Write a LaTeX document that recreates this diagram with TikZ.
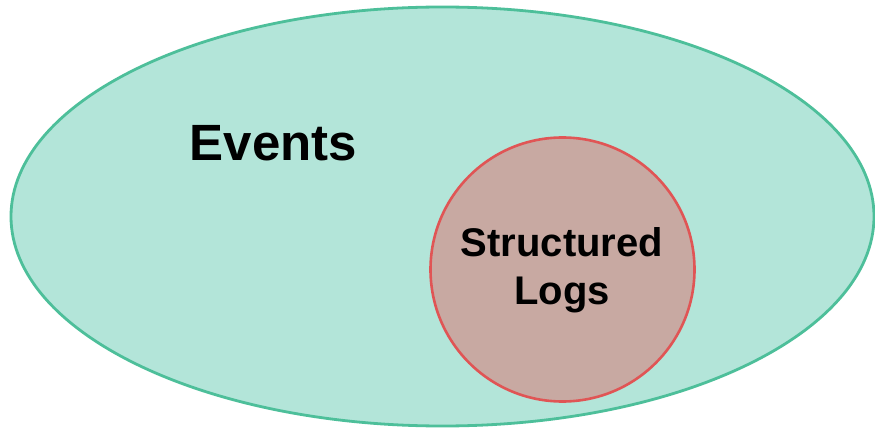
\documentclass[tikz,border=0pt]{standalone}
\usepackage{fontspec}
\setmainfont{Liberation Sans}
\definecolor{evfill}{HTML}{B3E5D9}
\definecolor{evline}{HTML}{4DBF9A}
\definecolor{slfill}{HTML}{C8A9A2}
\definecolor{slline}{HTML}{E05555}
\begin{document}
\begin{tikzpicture}[x=1pt,y=-1pt,
  lbl/.style={font=\bfseries, text=black, align=center}]
\fill[white] (0,0) rectangle (875,430);
\useasboundingbox (0,0) rectangle (875,430);
\draw[evline, fill=evfill, line width=2.8pt] (442.5,216.5) ellipse [x radius=431.5, y radius=209.5];
\draw[slline, fill=slfill, line width=2.6pt] (562.5,269.5) circle [radius=132];
\node[lbl, font=\fontsize{51}{60}\bfseries, anchor=base] (ev) at (273.5,161) {Events};
\node[lbl, font=\fontsize{40}{48}\selectfont\bfseries, anchor=base] (sl1) at (562,257) {Structured};
\node[lbl, font=\fontsize{40}{48}\selectfont\bfseries, anchor=base] (sl2) at (562,305) {Logs};
\end{tikzpicture}
\end{document}
